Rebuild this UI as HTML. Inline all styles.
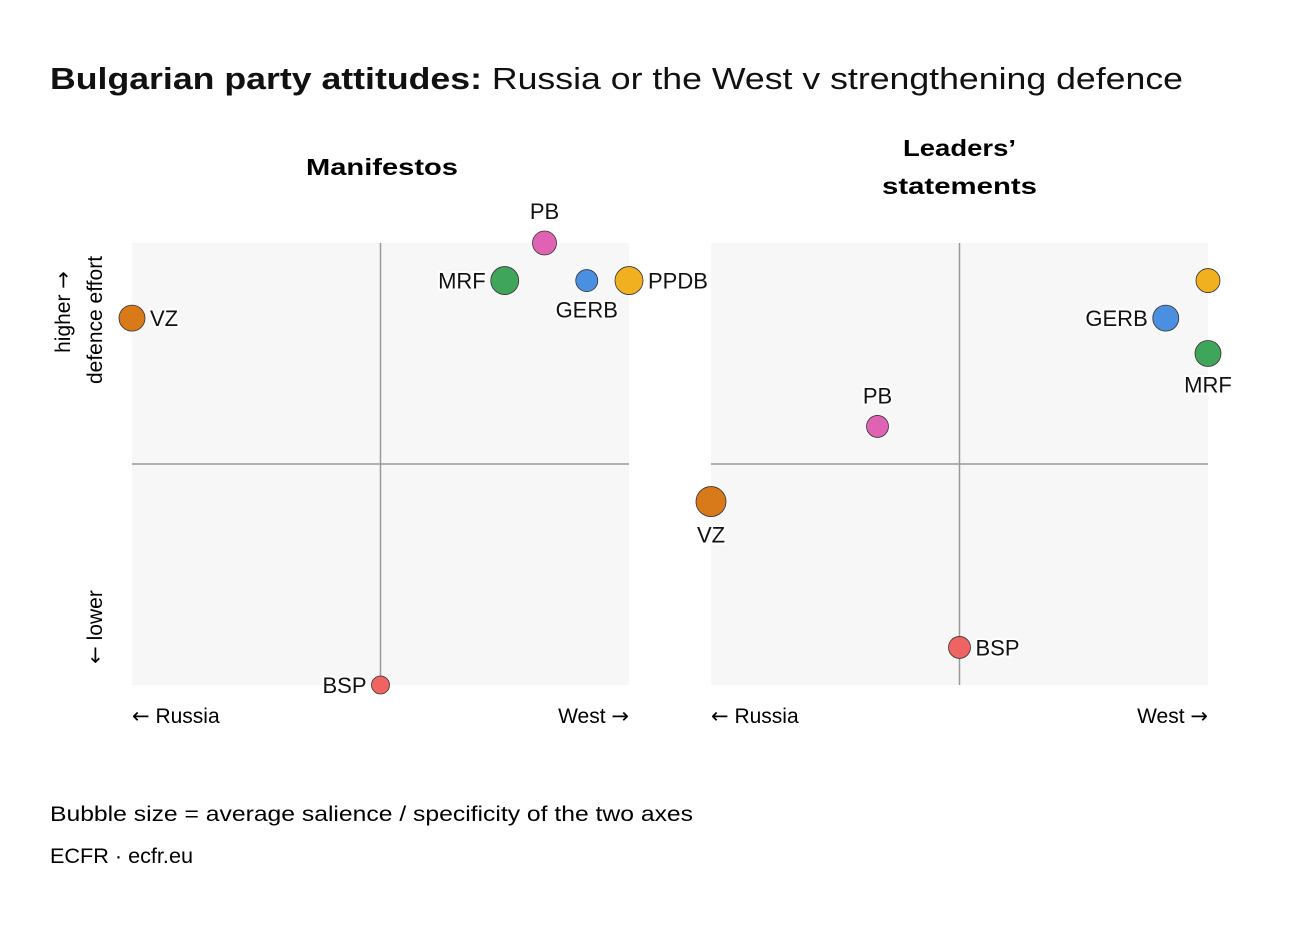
<!DOCTYPE html>
<html><head><meta charset="utf-8"><style>
body{margin:0;background:#fff;font-family:"Liberation Sans",sans-serif;}
svg text{font-family:"Liberation Sans",sans-serif;}
.ar{font-family:"DejaVu Sans",sans-serif;}
</style></head><body>
<svg width="1300" height="922" viewBox="0 0 1300 922">
<rect width="1300" height="922" fill="#fff"/>
<text x="50" y="89" font-size="31" fill="#111" textLength="1133" lengthAdjust="spacingAndGlyphs"><tspan font-weight="bold">Bulgarian party attitudes:</tspan> Russia or the West v strengthening defence</text>
<text x="306" y="175" font-size="23" font-weight="bold" textLength="152" lengthAdjust="spacingAndGlyphs">Manifestos</text>
<text font-size="23" font-weight="bold"><tspan x="903" y="156" textLength="113" lengthAdjust="spacingAndGlyphs">Leaders’</tspan><tspan x="882" y="194" textLength="155" lengthAdjust="spacingAndGlyphs">statements</tspan></text>
<text transform="translate(70,312) rotate(-90)" font-size="21" text-anchor="middle">higher <tspan class="ar">→</tspan></text>
<text transform="translate(102,320) rotate(-90)" font-size="21" text-anchor="middle">defence effort</text>
<text transform="translate(102,627) rotate(-90)" font-size="21" text-anchor="middle"><tspan class="ar">←</tspan> lower</text>
<g id="panels"></g>
<text x="50" y="821" font-size="21" textLength="643" lengthAdjust="spacingAndGlyphs">Bubble size = average salience / specificity of the two axes</text>
<text x="50" y="863" font-size="21" textLength="143" lengthAdjust="spacingAndGlyphs">ECFR · ecfr.eu</text>
</svg>
<script>
const parties=["VZ","PB","MRF","GERB","PPDB","BSP"];
const colors=["#d97a1a","#e063b3","#3fa55b","#4a8fe0","#f0b020","#ef6363"];
const manX=[-1,0.66,0.5,0.83,1,0];
const manY=[0.66,1,0.83,0.83,0.83,-1];
const manR=[13,12,14,11,14,9];
const manLab=["right","top","left","bottom","right","left"];
const leadX=[-1,-0.33,1,0.83,1,0];
const leadY=[-0.17,0.17,0.5,0.66,0.83,-0.83];
const leadR=[15,11,13,13,12,11];
const leadLab=["bottom","top","bottom","left","none","right"];
const NS="http://www.w3.org/2000/svg";
const g=document.getElementById('panels');
function mk(t,a,p){const e=document.createElementNS(NS,t);for(const k in a)e.setAttribute(k,a[k]);(p||g).appendChild(e);return e;}
function panel(x0,xs,ys,rs,labs,name){
  const W=497,H=442,y0=243;
  const sx=v=>x0+(v+1)/2*W, sy=v=>y0+(1-v)/2*H;
  const pg=mk('g',{});
  
  
  mk('rect',{x:x0,y:y0,width:W,height:H,fill:'#f7f7f7'},pg);
  mk('line',{x1:sx(0),x2:sx(0),y1:y0,y2:y0+H,stroke:'#999','stroke-width':1.5},pg);
  mk('line',{x1:x0,x2:x0+W,y1:sy(0),y2:sy(0),stroke:'#999','stroke-width':1.5},pg);
  let t=mk('text',{x:x0,y:723,'font-size':21},pg);t.innerHTML='<tspan class="ar">←</tspan> Russia';
  
  t=mk('text',{x:x0+W,y:723,'font-size':21,'text-anchor':'end'},pg);t.innerHTML='West <tspan class="ar">→</tspan>';
  
  parties.forEach((p,i)=>{
    const cx=sx(xs[i]),cy=sy(ys[i]),r=rs[i];
    const c=mk('circle',{cx:cx,cy:cy,r:r,fill:colors[i],stroke:'#333','stroke-width':0.8},pg);
    
    
    if(labs[i]==='none')return;
    let lx=cx,ly=cy+8,an='middle';
    if(labs[i]==='right'){lx=cx+r+5;an='start';}
    if(labs[i]==='left'){lx=cx-r-5;an='end';}
    if(labs[i]==='top'){ly=cy-r-12;}
    if(labs[i]==='bottom'){ly=cy+r+26;}
    const l=mk('text',{x:lx,y:ly,'font-size':22,'text-anchor':an,stroke:'#fff','stroke-width':4,'paint-order':'stroke',fill:'#111'},pg);
    l.textContent=p;
    
    
  });
}
panel(132,manX,manY,manR,manLab,'manifestos');
panel(711,leadX,leadY,leadR,leadLab,'leaders');
</script>
</body></html>
